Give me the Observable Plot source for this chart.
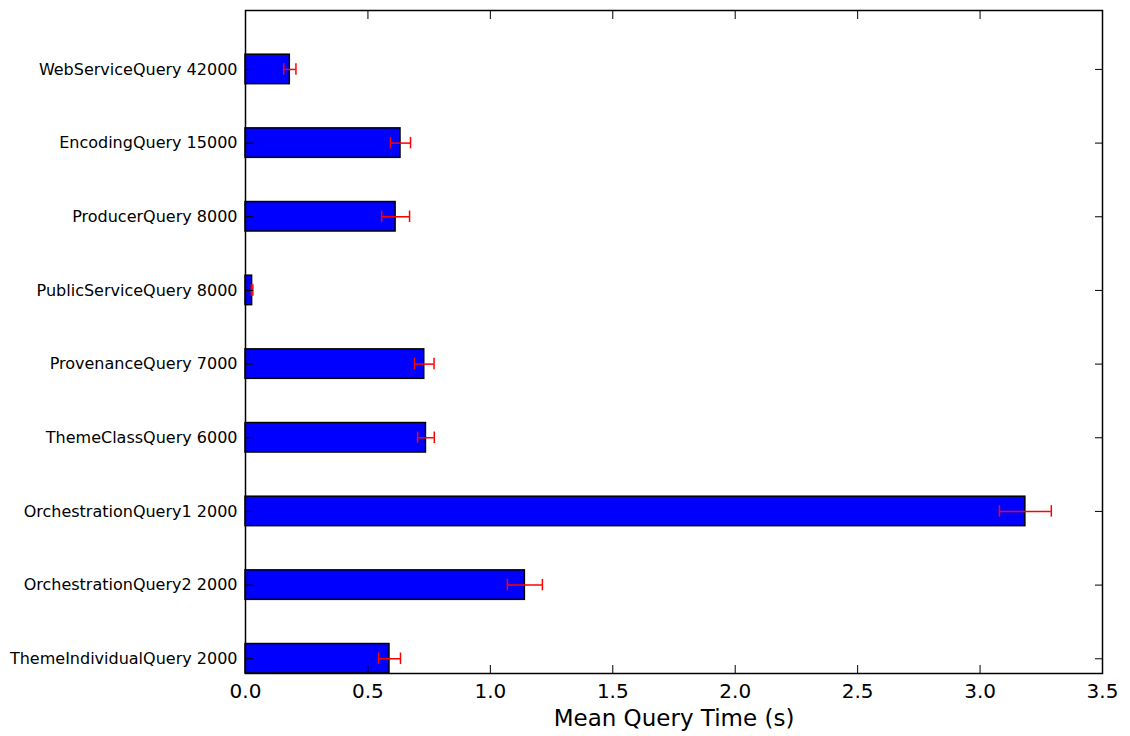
<!DOCTYPE html>
<html>
<head>
<meta charset="utf-8">
<script src="https://cdn.jsdelivr.net/npm/d3@7"></script>
<script src="https://cdn.jsdelivr.net/npm/@observablehq/plot@0.6"></script>
<style>
  html, body { margin: 0; padding: 0; background: #fff; }
  #chart svg { display: block; }
</style>
</head>
<body>
<div id="chart"></div>
<script>
const queries = [
  "WebServiceQuery 42000",
  "EncodingQuery 15000",
  "ProducerQuery 8000",
  "PublicServiceQuery 8000",
  "ProvenanceQuery 7000",
  "ThemeClassQuery 6000",
  "OrchestrationQuery1 2000",
  "OrchestrationQuery2 2000",
  "ThemeIndividualQuery 2000"
];
const meanTimes = [0.181, 0.633, 0.613, 0.027, 0.730, 0.737, 3.185, 1.141, 0.588];
const errors    = [0.025, 0.041, 0.057, 0.003, 0.040, 0.034, 0.106, 0.0715, 0.045];
const xTicks = [0, 0.5, 1.0, 1.5, 2.0, 2.5, 3.0, 3.5];

const data = queries.map((q, i) => ({
  query: q, mean: meanTimes[i], err: errors[i],
  lo: meanTimes[i] - errors[i], hi: meanTimes[i] + errors[i]
}));

const W = 1130, H = 736;
const mL = 245, mR = 28, mT = 10, mB = 63;
const font = "DejaVu Sans, sans-serif";
const blank = () => "";

const chart = Plot.plot({
  width: W,
  height: H,
  marginLeft: mL,
  marginRight: mR,
  marginTop: mT,
  marginBottom: mB,
  style: { fontFamily: font, background: "#fff", color: "#000" },
  x: { domain: [0, 3.5] },
  y: { domain: queries, paddingInner: 0.6, paddingOuter: 0.3, align: 1, round: false },
  marks: [
    Plot.barX(data, { y: "query", x: "mean", fill: "#0000ff", stroke: "#000", strokeWidth: 1.5 }),
    Plot.ruleY(data, { y: "query", x1: "lo", x2: "hi", stroke: "#ff0000", strokeWidth: 1.5 }),
    Plot.tickX(data, { y: "query", x: "lo", stroke: "#ff0000", strokeWidth: 1.5, insetTop: 9, insetBottom: 9 }),
    Plot.tickX(data, { y: "query", x: "hi", stroke: "#ff0000", strokeWidth: 1.5, insetTop: 9, insetBottom: 9 }),
    Plot.axisX({ anchor: "bottom", ticks: xTicks, tickFormat: d3.format(".1f"), tickSize: -8, tickPadding: 18,
                 fontSize: 20, label: null, stroke: "#000" }),
    Plot.axisX({ anchor: "bottom", ticks: [], label: "Mean Query Time (s)", labelAnchor: "center",
                 labelOffset: 52, fontSize: 23, labelArrow: "none" }),
    Plot.axisX({ anchor: "top", ticks: xTicks, tickFormat: blank, tickSize: -8, label: null }),
    Plot.axisY({ anchor: "left", tickSize: -8, tickPadding: 16, fontSize: 16, label: null }),
    Plot.axisY({ anchor: "right", tickSize: -8, tickFormat: blank, label: null }),
    Plot.frame({ stroke: "#000", strokeWidth: 1.5 })
  ]
});
document.getElementById("chart").appendChild(chart);
</script>
</body>
</html>
